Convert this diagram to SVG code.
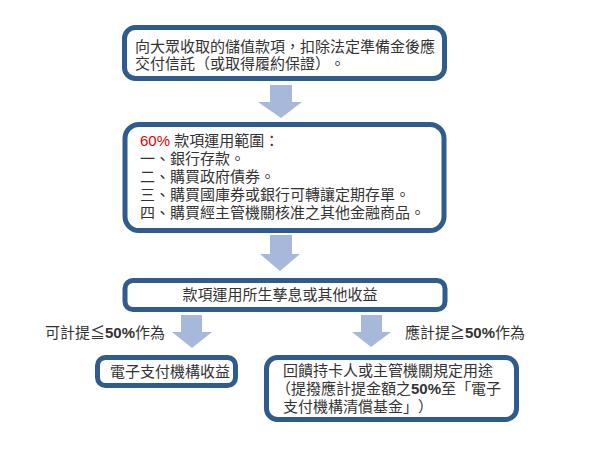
<svg xmlns="http://www.w3.org/2000/svg" width="600" height="450" viewBox="0 0 600 450">
<style>
.box{fill:#ffffff;stroke:#2F5B8E;stroke-width:5}
.arr{fill:#A7B9DA;stroke:none}
text{font-family:"Liberation Sans","Noto Sans CJK TC",sans-serif;font-size:15px;fill:#333333;text-spacing-trim:space-all}
.b{font-weight:bold}
.red{fill:#E00000}
</style>
<rect width="600" height="450" fill="#ffffff"/>
<g id="connectors">
<polygon class="arr" points="270,85 292,85 292,102 302,102 281,118 258,102 270,102"/>
<polygon class="arr" points="270,235 292,235 292,254 300,254 280,271 260,254 270,254"/>
<polygon class="arr" points="181,315 202,315 202,332 212,332 192,348 172,332 181,332"/>
<polygon class="arr" points="361,315 382,315 382,332 391,332 371,347 352,332 361,332"/>
<text id="label-left" x="45" y="338">可計提≦<tspan class="b">50%</tspan>作為</text>
<text id="label-right" x="405" y="338">應計提≧<tspan class="b">50%</tspan>作為</text>
</g>
<g id="node1">
<rect class="box" x="124.5" y="27.5" width="320" height="51" rx="11"/>
<text x="135" y="52">向大眾收取的儲值款項，扣除法定準備金後應</text>
<text x="135" y="69">交付信託（或取得履約保證）。</text>
</g>
<g id="node2">
<rect class="box" x="125" y="124.5" width="319" height="106" rx="14"/>
<text x="140" y="146"><tspan class="red">60%</tspan> 款項運用範圍：</text>
<text x="140" y="164">一、銀行存款。</text>
<text x="140" y="182">二、購買政府債券。</text>
<text x="140" y="200">三、購買國庫券或銀行可轉讓定期存單。</text>
<text x="140" y="218">四、購買經主管機關核准之其他金融商品。</text>
</g>
<g id="node3">
<rect class="box" x="125" y="280.5" width="320" height="29" rx="8"/>
<text x="280" y="300" text-anchor="middle">款項運用所生孳息或其他收益</text>
</g>
<g id="node4">
<rect class="box" x="97.5" y="357.5" width="138" height="28" rx="8"/>
<text x="110" y="377">電子支付機構收益</text>
</g>
<g id="node5">
<rect class="box" x="266.5" y="357.5" width="250" height="62" rx="11"/>
<text x="283" y="376">回饋持卡人或主管機關規定用途</text>
<text x="276" y="394">（提撥應計提金額之<tspan class="b">50%</tspan>至「電子</text>
<text x="283" y="412">支付機構清償基金」）</text>
</g>
</svg>
